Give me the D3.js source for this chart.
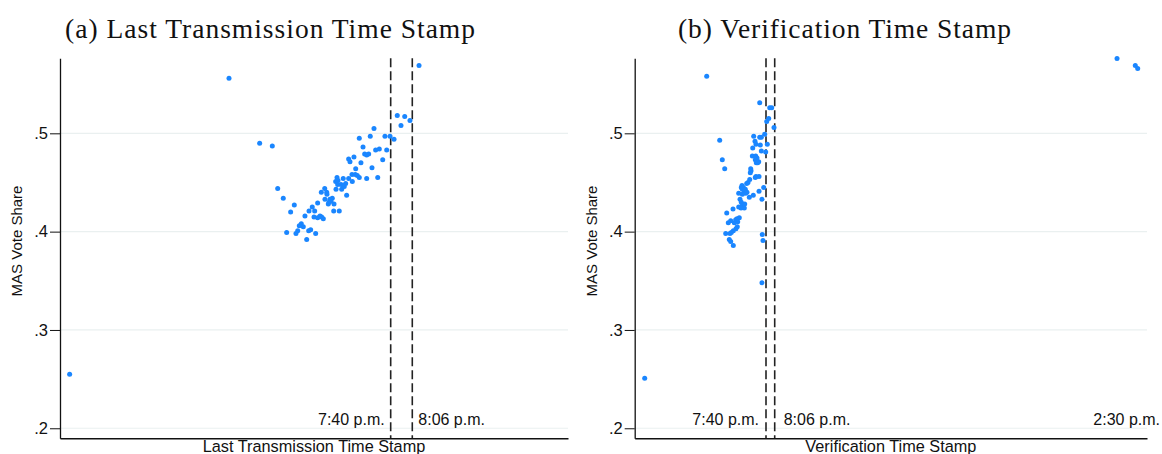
<!DOCTYPE html>
<html>
<head>
<meta charset="utf-8">
<script src="https://cdn.jsdelivr.net/npm/d3@7"></script>
<style>
  body { margin: 0; background: #fff; }
  svg { display: block; }
</style>
</head>
<body>
<div id="chart"></div>
<script>
// minutes after 7:40 p.m., MAS vote share
var transmissionPoints = [
  [-386.4, 0.255], [-194.6, 0.556], [34.1, 0.569], [7.9, 0.518], [16.9, 0.517],
  [12.4, 0.508], [23.2, 0.513], [-157.7, 0.490], [-142.5, 0.487], [-20.1, 0.505],
  [-37.8, 0.495], [-24.6, 0.497], [-6.9, 0.497], [-0.8, 0.497], [4.0, 0.494],
  [-33.3, 0.486], [-18.1, 0.483], [-13.7, 0.484], [-4.8, 0.483], [-31.3, 0.479],
  [-28.9, 0.478], [-26.5, 0.479], [-50.6, 0.474], [-49.0, 0.471], [-44.2, 0.476],
  [-9.6, 0.473], [-35.8, 0.470], [-22.5, 0.465], [-42.1, 0.464], [-46.6, 0.458],
  [-42.6, 0.458], [-40.2, 0.457], [-37.8, 0.455], [-28.9, 0.454], [-15.6, 0.455],
  [-64.6, 0.455], [-63.4, 0.452], [-57.1, 0.454], [-50.6, 0.454], [-46.2, 0.451],
  [-66.2, 0.451], [-63.8, 0.448], [-59.8, 0.448], [-57.1, 0.447], [-54.2, 0.449],
  [-59.0, 0.443], [-65.8, 0.443], [-55.9, 0.446], [-79.4, 0.444], [-83.5, 0.440],
  [-77.0, 0.440], [-76.7, 0.438], [-53.0, 0.437], [-136.0, 0.444], [-129.3, 0.434],
  [-79.1, 0.433], [-73.1, 0.433], [-70.3, 0.434], [-71.9, 0.431], [-75.1, 0.428],
  [-74.3, 0.430], [-68.2, 0.428], [-87.9, 0.429], [-94.4, 0.425], [-116.0, 0.427],
  [-120.4, 0.420], [-98.3, 0.421], [-91.5, 0.421], [-68.6, 0.421], [-61.9, 0.421],
  [-103.2, 0.416], [-92.3, 0.415], [-87.9, 0.414], [-85.1, 0.416], [-83.1, 0.415],
  [-81.1, 0.413], [-107.6, 0.408], [-110.0, 0.406], [-105.2, 0.405], [-111.9, 0.401],
  [-114.0, 0.398], [-125.2, 0.399], [-98.7, 0.401], [-96.3, 0.402], [-90.3, 0.398],
  [-101.1, 0.392]
]

var verificationPoints = [
  [-362.5, 0.251], [-177.2, 0.558], [1049.0, 0.576], [1103.6, 0.569], [1110.8, 0.566],
  [-18.8, 0.531], [11.1, 0.526], [17.0, 0.526], [8.1, 0.515], [2.1, 0.512],
  [23.9, 0.506], [-3.9, 0.499], [-36.8, 0.497], [-18.8, 0.496], [-14.0, 0.496],
  [-32.9, 0.492], [-29.9, 0.489], [3.9, 0.489], [-17.0, 0.488], [-39.7, 0.485],
  [-14.0, 0.482], [-0.9, 0.481], [-138.4, 0.493], [-130.6, 0.473], [-123.4, 0.464],
  [-40.9, 0.477], [-30.8, 0.477], [-26.9, 0.475], [-32.0, 0.473], [-29.0, 0.470],
  [-21.8, 0.471], [-24.8, 0.470], [-45.7, 0.464], [-44.8, 0.462], [-46.9, 0.460],
  [-29.9, 0.456], [-20.9, 0.456], [-32.0, 0.455], [-48.7, 0.453], [-53.8, 0.450],
  [-57.7, 0.449], [-71.7, 0.447], [-73.8, 0.445], [-67.8, 0.445], [-70.8, 0.443],
  [-61.9, 0.443], [-64.9, 0.441], [-56.8, 0.440], [-60.7, 0.439], [-70.8, 0.438],
  [-6.9, 0.445], [-20.9, 0.441], [-81.6, 0.439], [-38.0, 0.437], [-49.9, 0.435],
  [-12.0, 0.433], [-77.7, 0.433], [-73.8, 0.430], [-71.7, 0.426], [-63.7, 0.428],
  [-64.9, 0.424], [-81.6, 0.425], [-74.7, 0.424], [-98.6, 0.423], [-117.4, 0.419],
  [-79.8, 0.414], [-86.7, 0.413], [-90.6, 0.412], [-84.6, 0.410], [-94.7, 0.409],
  [-112.7, 0.409], [-105.5, 0.411], [-85.8, 0.405], [-89.7, 0.403], [-97.7, 0.401],
  [-103.7, 0.399], [-107.6, 0.398], [-120.4, 0.398], [-109.7, 0.392], [-105.5, 0.390],
  [-97.7, 0.386], [-11.1, 0.397], [-9.0, 0.391], [-12.0, 0.348]
]

var yTicks = [0.2, 0.3, 0.4, 0.5]
var yTickLabels = ['.2', '.3', '.4', '.5']
var cutoffs = [0, 26] // 7:40 p.m. and 8:06 p.m.

var width = 1162
var height = 454
var svg = d3.select('#chart').append('svg')
  .attr('width', width)
  .attr('height', height)

var y = d3.scaleLinear().domain([0.1898, 0.5763]).range([438.3, 58.3])

function drawPanel (p) {
  var x = d3.scaleLinear().domain(p.domain).range([p.left, p.right])
  var g = svg.append('g')

  g.append('text')
    .attr('x', p.titleX)
    .attr('y', 38)
    .attr('font-family', 'Liberation Serif, serif')
    .attr('font-size', 27.5)
    .attr('fill', '#111')
    .attr('textLength', p.titleLen)
    .attr('lengthAdjust', 'spacing')
    .text(p.title)

  g.selectAll('.grid')
    .data(yTicks)
    .enter()
    .append('line')
    .attr('x1', p.left)
    .attr('x2', p.right)
    .attr('y1', (d) => { return y(d) })
    .attr('y2', (d) => { return y(d) })
    .attr('stroke', '#eaf0f0')
    .attr('stroke-width', 1.2)

  g.selectAll('.cut')
    .data(cutoffs)
    .enter()
    .append('line')
    .attr('x1', (d) => { return x(d) })
    .attr('x2', (d) => { return x(d) })
    .attr('y1', y.range()[1])
    .attr('y2', y.range()[0])
    .attr('stroke', '#222')
    .attr('stroke-width', 1.6)
    .attr('stroke-dasharray', '9,4')

  g.selectAll('circle')
    .data(p.points)
    .enter()
    .append('circle')
    .attr('cx', (d) => { return x(d[0]) })
    .attr('cy', (d) => { return y(d[1]) })
    .attr('r', 2.5)
    .attr('fill', '#1a86ff')

  var yAxis = d3.axisLeft(y)
    .tickValues(yTicks)
    .tickFormat((d, i) => { return yTickLabels[i] })
    .tickSize(10)
    .tickSizeOuter(0)
  var ya = g.append('g')
    .attr('transform', 'translate(' + p.left + ',0)')
    .call(yAxis)
  ya.selectAll('text')
    .attr('font-family', 'Liberation Sans, Arial, sans-serif')
    .attr('font-size', 16.5)
    .attr('fill', '#111')
    .attr('x', -12)
  ya.selectAll('line').attr('stroke', '#111')
  ya.select('.domain').attr('stroke', '#111').attr('stroke-width', 1.3)

  var xa = g.append('g')
    .attr('transform', 'translate(0,' + y.range()[0] + ')')
    .call(d3.axisBottom(x).tickValues([]).tickSizeOuter(0))
  xa.select('.domain').attr('stroke', '#111').attr('stroke-width', 1.5)

  g.selectAll('.stamp')
    .data(p.labels)
    .enter()
    .append('text')
    .attr('x', (d) => { return x(d.t) + d.dx })
    .attr('y', 425)
    .attr('text-anchor', (d) => { return d.anchor })
    .attr('font-family', 'Liberation Sans, Arial, sans-serif')
    .attr('font-size', 16)
    .attr('fill', '#111')
    .text((d) => { return d.text })

  g.append('text')
    .attr('x', (p.left + p.right) / 2)
    .attr('y', 452)
    .attr('text-anchor', 'middle')
    .attr('font-family', 'Liberation Sans, Arial, sans-serif')
    .attr('font-size', 16.3)
    .attr('fill', '#111')
    .text(p.xTitle)

  g.append('text')
    .attr('transform', 'translate(' + (p.left - 38) + ',241) rotate(-90)')
    .attr('text-anchor', 'middle')
    .attr('font-family', 'Liberation Sans, Arial, sans-serif')
    .attr('font-size', 15)
    .attr('fill', '#111')
    .text('MAS Vote Share')
}

drawPanel({
  title: '(a) Last Transmission Time Stamp',
  titleX: 65,
  titleLen: 410,
  xTitle: 'Last Transmission Time Stamp',
  left: 60,
  right: 568,
  domain: [-398, 213.4],
  points: transmissionPoints,
  labels: [
    { text: '7:40 p.m.', t: 0, dx: -6, anchor: 'end' },
    { text: '8:06 p.m.', t: 26, dx: 6, anchor: 'start' }
  ]
})

drawPanel({
  title: '(b) Verification Time Stamp',
  titleX: 678,
  titleLen: 333,
  xTitle: 'Verification Time Stamp',
  left: 634.7,
  right: 1147,
  domain: [-392.4, 1138.6],
  points: verificationPoints,
  labels: [
    { text: '7:40 p.m.', t: 0, dx: -7, anchor: 'end' },
    { text: '8:06 p.m.', t: 26, dx: 9, anchor: 'start' },
    { text: '2:30 p.m.', t: 1138.6, dx: 13, anchor: 'end' }
  ]
})
</script>
</body>
</html>
